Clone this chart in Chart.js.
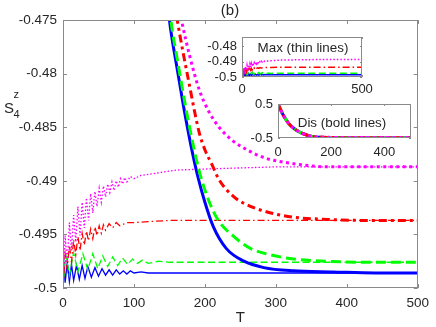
<!DOCTYPE html>
<html>
<head>
<meta charset="utf-8">
<script src="https://cdn.jsdelivr.net/npm/chart.js@4/dist/chart.umd.min.js"></script>
<style>
  body { margin: 0; background: #fff; }
  #cadre { position: relative; width: 436px; height: 327px; }
  canvas { position: absolute; }
</style>
</head>
<body>
<div id="cadre">
  <canvas id="chartPrincipal" width="436" height="327" style="left:0;top:0"></canvas>
  <canvas id="chartMax" width="185" height="85" style="left:195px;top:20px"></canvas>
  <canvas id="chartDis" width="190" height="80" style="left:245px;top:88px"></canvas>
</div>
<script>
// courbes "Dis" (traits gras)
const tDisBleu = [0, 20, 40, 60, 80, 100, 120, 140, 150, 160, 170, 180, 190, 200, 212, 230, 255, 283, 325, 380, 440, 500];
const sDisBleu = [0.5, 0.17, -0.07, -0.22, -0.32, -0.39, -0.44, -0.468, -0.475, -0.4792, -0.4831, -0.4866, -0.4896, -0.4920, -0.4943, -0.4963, -0.4975, -0.4981, -0.4984, -0.4985, -0.4986, -0.4986];

const tDisVert = [0, 20, 40, 60, 80, 100, 120, 140, 152, 162, 172, 182, 192, 204, 218, 241, 264, 292, 325, 370, 430, 500];
const sDisVert = [0.5, 0.17, -0.07, -0.22, -0.32, -0.39, -0.44, -0.467, -0.475, -0.4790, -0.4828, -0.4862, -0.4891, -0.4916, -0.4936, -0.4952, -0.4963, -0.4969, -0.4973, -0.4975, -0.4976, -0.4976];

const tDisRouge = [0, 20, 40, 60, 80, 100, 120, 140, 161, 178, 192, 200, 210, 220, 241, 265, 293, 325, 374, 430, 500];
const sDisRouge = [0.5, 0.17, -0.07, -0.22, -0.32, -0.39, -0.44, -0.466, -0.475, -0.4810, -0.4855, -0.4871, -0.4885, -0.4899, -0.4915, -0.4924, -0.4930, -0.4934, -0.4936, -0.4937, -0.4937];

const tDisMagenta = [0, 20, 40, 60, 80, 100, 120, 140, 167, 178, 192, 206, 220, 238, 262, 286, 325, 374, 440, 500];
const sDisMagenta = [0.5, 0.17, -0.07, -0.22, -0.32, -0.39, -0.44, -0.465, -0.475, -0.4782, -0.4815, -0.4836, -0.4850, -0.4862, -0.4872, -0.4879, -0.4884, -0.4887, -0.4887, -0.4887];

// courbes "Max" (traits fins)
const tMaxMagenta = [0, 3, 6, 9, 12, 15, 18, 21, 24, 27, 30, 33, 36, 39, 42, 45, 48, 51, 54, 57, 60, 63, 66, 69, 72, 75, 78, 81, 84, 87, 90, 95, 100, 110, 120, 140, 160, 200, 250, 300, 500];
const sMaxMagenta = [-0.5, -0.4951, -0.4976, -0.4939, -0.4965, -0.4932, -0.4957, -0.4924, -0.4951, -0.4920, -0.4944, -0.4916, -0.4937, -0.4912, -0.4930, -0.4910, -0.4924, -0.4907, -0.4920, -0.4905, -0.4915, -0.4903, -0.4911, -0.4901, -0.4909, -0.4900, -0.4906, -0.4898, -0.4903, -0.4897, -0.4901, -0.4896, -0.4898, -0.4895, -0.4894, -0.4892, -0.4890, -0.4889, -0.4888, -0.4887, -0.4887];

const tMaxRouge = [0, 3, 6, 9, 12, 15, 18, 21, 24, 27, 30, 33, 36, 39, 42, 45, 48, 51, 54, 57, 60, 65, 70, 75, 80, 90, 100, 120, 150, 200, 500];
const sMaxRouge = [-0.5, -0.4969, -0.4982, -0.4960, -0.4976, -0.4955, -0.4969, -0.4952, -0.4965, -0.4949, -0.4960, -0.4947, -0.4956, -0.4945, -0.4954, -0.4943, -0.4951, -0.4942, -0.4949, -0.4941, -0.4946, -0.4940, -0.4944, -0.4939, -0.4942, -0.4939, -0.4939, -0.4938, -0.4937, -0.4937, -0.4937];

const tMaxVert = [0, 4, 9, 15, 21, 28, 35, 42, 49, 56, 63, 70, 77, 84, 91, 98, 105, 112, 120, 135, 150, 200, 500];
const sMaxVert = [-0.5, -0.4969, -0.4988, -0.4967, -0.4985, -0.4968, -0.4983, -0.4968, -0.4982, -0.4970, -0.4980, -0.4971, -0.4979, -0.4972, -0.4978, -0.4973, -0.4977, -0.4974, -0.4977, -0.4975, -0.4976, -0.4976, -0.4976];

const tMaxBleu = [0, 3, 6, 9, 12, 15, 19, 23, 27, 31, 35, 40, 45, 50, 55, 60, 65, 70, 75, 80, 85, 90, 95, 100, 110, 120, 500];
const sMaxBleu = [-0.4965, -0.4995, -0.4976, -0.4994, -0.4978, -0.4993, -0.4979, -0.4992, -0.4979, -0.4991, -0.4980, -0.4990, -0.4981, -0.4989, -0.4982, -0.4988, -0.4983, -0.4988, -0.4983, -0.4987, -0.4984, -0.4987, -0.4984, -0.4986, -0.4985, -0.4986, -0.4986];

// graduations
const ticksT = [0, 100, 200, 300, 400, 500];
const ticksS = [-0.5, -0.495, -0.49, -0.485, -0.48, -0.475];
const ticksTMax = [0, 500];
const ticksSMax = [-0.5, -0.49, -0.48];
const ticksTDis = [0, 200, 400];
const ticksSDis = [-0.5, 0, 0.5];

const police = "'Liberation Sans', Arial, Helvetica, sans-serif";
const gris = "#262626";

function points(t, s) {
  return t.map((x, i) => ({ x: x, y: s[i] }));
}

function jeuxDis(largeur) {
  return [
    { data: points(tDisMagenta, sDisMagenta), borderColor: "#ff00ff", borderWidth: largeur, borderDash: [3, 3.5], order: 1 },
    { data: points(tDisRouge, sDisRouge), borderColor: "#ff0000", borderWidth: largeur, borderDash: [8, 4, 3, 4], order: 2 },
    { data: points(tDisVert, sDisVert), borderColor: "#00ff00", borderWidth: largeur, borderDash: [10, 5], order: 3 },
    { data: points(tDisBleu, sDisBleu), borderColor: "#0000ff", borderWidth: largeur, order: 4 }
  ].map(d => Object.assign(d, { cubicInterpolationMode: "monotone" }));
}

function jeuxMax(largeur) {
  return [
    { data: points(tMaxMagenta, sMaxMagenta), borderColor: "#ff00ff", borderWidth: largeur, borderDash: [1.5, 2], order: 5 },
    { data: points(tMaxRouge, sMaxRouge), borderColor: "#ff0000", borderWidth: largeur, borderDash: [7, 3, 1.5, 3], order: 6 },
    { data: points(tMaxVert, sMaxVert), borderColor: "#00ff00", borderWidth: largeur, borderDash: [7, 3.5], order: 7 },
    { data: points(tMaxBleu, sMaxBleu), borderColor: "#0000ff", borderWidth: largeur, order: 8 }
  ];
}

// cadre, graduations internes et textes
const cadre = {
  id: "cadre",
  beforeDatasetsDraw(chart) {
    const a = chart.chartArea;
    chart.ctx.save();
    chart.ctx.fillStyle = "#fff";
    chart.ctx.fillRect(a.left, a.top, a.width, a.height);
    chart.ctx.restore();
  },
  afterDatasetsDraw(chart, args, opts) {
    const { ctx, chartArea: a, scales } = chart;
    const L = opts.tick;
    ctx.save();
    ctx.strokeStyle = "#8a8a8a";
    ctx.lineWidth = 1;
    ctx.beginPath();
    scales.x.ticks.forEach(t => {
      const px = Math.round(scales.x.getPixelForValue(t.value)) + 0.5;
      ctx.moveTo(px, a.bottom); ctx.lineTo(px, a.bottom - L);
      ctx.moveTo(px, a.top); ctx.lineTo(px, a.top + L);
    });
    scales.y.ticks.forEach(t => {
      const py = Math.round(scales.y.getPixelForValue(t.value)) + 0.5;
      ctx.moveTo(a.left, py); ctx.lineTo(a.left + L, py);
      ctx.moveTo(a.right, py); ctx.lineTo(a.right - L, py);
    });
    ctx.stroke();
    ctx.strokeRect(Math.round(a.left) + 0.5, Math.round(a.top) + 0.5, Math.round(a.width) - 1, Math.round(a.height) - 1);
    ctx.fillStyle = gris;
    (opts.textes || []).forEach(t => {
      ctx.font = t.taille + "px " + police;
      ctx.textAlign = t.align || "center";
      ctx.textBaseline = t.base || "middle";
      ctx.fillText(t.texte, t.x, t.y);
    });
    ctx.restore();
  }
};

function axes(tT, tS, min, max, ymin, ymax, largeurY, hauteurX, taille, padX) {
  return {
    x: {
      type: "linear", min: min, max: max,
      grid: { display: false, drawTicks: false }, border: { display: false },
      afterBuildTicks: s => { s.ticks = tT.map(v => ({ value: v })); },
      afterFit: s => { s.height = hauteurX; },
      ticks: { padding: padX, color: gris, font: { family: police, size: taille }, maxRotation: 0, callback: v => String(v) }
    },
    y: {
      type: "linear", min: ymin, max: ymax,
      grid: { display: false, drawTicks: false }, border: { display: false },
      afterBuildTicks: s => { s.ticks = tS.map(v => ({ value: v })); },
      afterFit: s => { s.width = largeurY; },
      ticks: { padding: 5, color: gris, font: { family: police, size: taille }, callback: v => String(v) }
    }
  };
}

const base = {
  responsive: false,
  animation: false,
  events: [],
  elements: { point: { radius: 0 }, line: { tension: 0 } }
};

// graphique principal
const optPrincipal = Object.assign({}, base, {
  layout: { padding: { left: 0, right: 16, top: 20, bottom: 0 } },
  plugins: {
    legend: { display: false }, tooltip: { enabled: false },
    cadre: {
      tick: 4,
      textes: [
        { texte: "(b)", x: 230, y: 11, taille: 15 },
        { texte: "S", x: 4, y: 113, taille: 15, align: "left", base: "alphabetic" },
        { texte: "z", x: 13.5, y: 98, taille: 11, align: "left", base: "alphabetic" },
        { texte: "4", x: 13.5, y: 118, taille: 11, align: "left", base: "alphabetic" }
      ]
    }
  },
  scales: axes(ticksT, ticksS, 0, 500, -0.5, -0.475, 63, 39, 13.5, 7)
});
optPrincipal.scales.y.ticks.padding = 6;
optPrincipal.scales.x.title = { display: true, text: "T", color: gris, font: { family: police, size: 15 }, padding: 0 };

new Chart(document.getElementById("chartPrincipal"), {
  type: "line",
  data: { datasets: jeuxMax(1.3).concat(jeuxDis(3)) },
  options: optPrincipal,
  plugins: [cadre]
});

// encart "Max"
new Chart(document.getElementById("chartMax"), {
  type: "line",
  data: { datasets: jeuxMax(1.5) },
  options: Object.assign({}, base, {
    layout: { padding: { left: 0, right: 18, top: 17, bottom: 0 } },
    plugins: {
      legend: { display: false }, tooltip: { enabled: false },
      cadre: { tick: 2, textes: [{ texte: "Max (thin lines)", x: 108, y: 28, taille: 13.4 }] }
    },
    scales: axes(ticksTMax, ticksSMax, 0, 500, -0.5, -0.474, 47, 28, 13, 5)
  }),
  plugins: [cadre]
});

// encart "Dis"
new Chart(document.getElementById("chartDis"), {
  type: "line",
  data: { datasets: jeuxDis(3) },
  options: Object.assign({}, base, {
    layout: { padding: { left: 0, right: 24, top: 16, bottom: 0 } },
    plugins: {
      legend: { display: false }, tooltip: { enabled: false },
      cadre: { tick: 2, textes: [{ texte: "Dis (bold lines)", x: 97, y: 35, taille: 13.4 }] }
    },
    scales: axes(ticksTDis, ticksSDis, 0, 500, -0.5, 0.5, 33, 30, 13, 7)
  }),
  plugins: [cadre]
});
</script>
</body>
</html>
